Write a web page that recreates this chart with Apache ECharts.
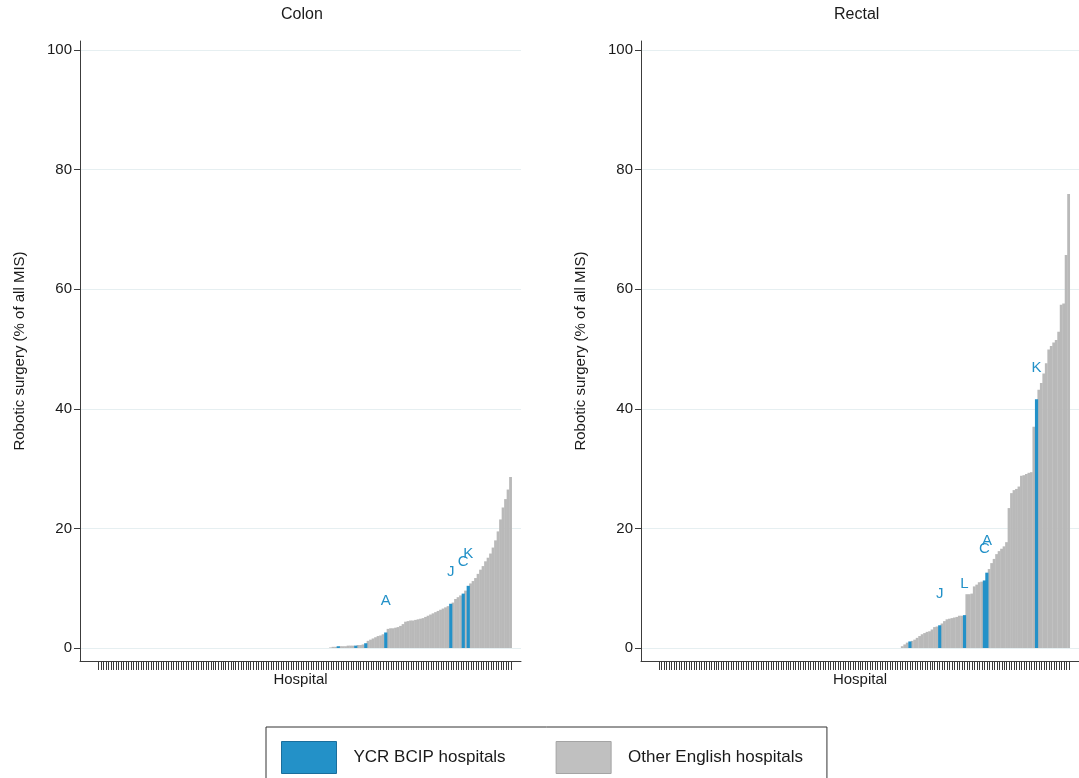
<!DOCTYPE html>
<html>
<head>
<meta charset="utf-8">
<script src="https://cdn.jsdelivr.net/npm/echarts@6/dist/echarts.min.js"></script>
<style>
  html, body { margin: 0; padding: 0; background: #ffffff; }
  #chart { width: 1079px; height: 778px; }
</style>
</head>
<body>
<div id="chart"></div>
<script>
// Number of English hospitals on the x axis of each panel
const hospitalCount = 166;

const panelTitles = ['Colon', 'Rectal'];
const seriesNames = ['YCR BCIP hospitals', 'Other English hospitals'];
const yTicks = [0, 20, 40, 60, 80, 100];

// Robotic share (% of all MIS) for hospitals with any robotic activity, ascending.
// All remaining hospitals (to the left) sit at 0.
const colonRates = [
  0.1, 0.2, 0.2, 0.3, 0.3, 0.3, 0.3, 0.4, 0.4, 0.4,
  0.4, 0.5, 0.5, 0.6, 0.8, 1.2, 1.4, 1.6, 1.8, 2.0,
  2.1, 2.3, 2.6, 3.2, 3.3, 3.3, 3.4, 3.5, 3.7, 4.0,
  4.4, 4.5, 4.6, 4.6, 4.7, 4.8, 4.9, 5.0, 5.2, 5.4,
  5.6, 5.8, 6.0, 6.2, 6.4, 6.6, 6.8, 7.0, 7.4, 7.6,
  8.2, 8.5, 8.8, 9.1, 9.6, 10.4, 10.8, 11.2, 11.7, 12.4,
  13.1, 13.7, 14.5, 15.1, 15.8, 16.8, 18.0, 19.5, 21.5, 23.5,
  24.9, 26.5, 28.6
];
// Positions (within colonRates) of YCR BCIP hospitals and their letters
const colonYcrPos = [3, 10, 14, 22, 48, 53, 55];
const colonYcrLabels = ['', '', '', 'A', 'J', 'C', 'K'];

const rectalRates = [
  0.3, 0.6, 0.9, 1.1, 1.2, 1.4, 1.7, 2.0, 2.3, 2.5,
  2.7, 2.8, 3.1, 3.5, 3.6, 3.8, 4.1, 4.5, 4.8, 4.9,
  5.0, 5.1, 5.2, 5.4, 5.4, 5.5, 9.0, 9.0, 9.1, 10.3,
  10.6, 11.0, 11.1, 11.3, 12.6, 13.2, 14.2, 14.9, 15.7, 16.2,
  16.6, 17.0, 17.7, 23.4, 25.9, 26.4, 26.6, 27.0, 28.8, 28.9,
  29.1, 29.3, 29.4, 37.0, 41.6, 43.2, 44.3, 45.9, 47.6, 49.9,
  50.5, 51.1, 51.5, 52.9, 57.4, 57.6, 65.7, 75.9
];
const rectalYcrPos = [3, 15, 25, 33, 34, 54];
const rectalYcrLabels = ['', 'J', 'L', 'C', 'A', 'K'];

const BLUE = '#2391c8';
const GREY = '#b9b9b9';
const FONT = "'Liberation Sans', Arial, Helvetica, sans-serif";
const TEXT = '#1a1a1a';
const AXIS = '#3c3c3c';
const GRIDLINE = '#e6eff1';

const panels = [
  { rates: colonRates, pos: colonYcrPos, labels: colonYcrLabels, left: 80 },
  { rates: rectalRates, pos: rectalYcrPos, labels: rectalYcrLabels, left: 641 }
];

const hospitalTicks = [];
for (let k = 0; k < hospitalCount; k++) hospitalTicks.push(k);

const grids = [], xAxes = [], yAxes = [], series = [], titles = [];

panels.forEach((p, g) => {
  grids.push({ left: p.left, top: 41, width: 441, height: 620, containLabel: false });

  xAxes.push({
    gridIndex: g,
    type: 'value',
    min: -7.3,
    max: 169.1,
    name: 'Hospital',
    nameLocation: 'middle',
    nameGap: 11,
    nameTextStyle: { fontFamily: FONT, fontSize: 15, color: TEXT },
    axisLine: { show: true, onZero: false, lineStyle: { color: AXIS, width: 1 } },
    axisTick: { show: true, length: 9, customValues: hospitalTicks, lineStyle: { color: '#3a3a3a', width: 1 } },
    axisLabel: { show: false },
    splitLine: { show: false }
  });

  yAxes.push({
    gridIndex: g,
    type: 'value',
    min: -2.17,
    max: 101.5,
    name: 'Robotic surgery (% of all MIS)',
    nameLocation: 'middle',
    nameGap: 53,
    nameTextStyle: { fontFamily: FONT, fontSize: 15, color: TEXT },
    axisLine: { show: true, onZero: false, lineStyle: { color: AXIS, width: 1 } },
    axisTick: { show: true, length: 6, customValues: yTicks, lineStyle: { color: AXIS } },
    axisLabel: { customValues: yTicks, margin: 8, fontFamily: FONT, fontSize: 15, color: TEXT },
    splitLine: { show: true, lineStyle: { color: GRIDLINE, width: 1 } }
  });

  const offset = hospitalCount - p.rates.length;
  const blueData = [], greyData = [];
  for (let k = 0; k < offset; k++) greyData.push([k, 0]);
  p.rates.forEach((v, i) => {
    const j = p.pos.indexOf(i);
    if (j >= 0) {
      const lbl = p.labels[j];
      blueData.push({ name: lbl, value: [offset + i, v], label: { show: lbl !== '' } });
    } else {
      greyData.push([offset + i, v]);
    }
  });

  series.push({
    name: seriesNames[1], type: 'bar', xAxisIndex: g, yAxisIndex: g,
    barWidth: 2.8, barGap: '-100%',
    itemStyle: { color: GREY },
    data: greyData, silent: true, animation: false
  });
  series.push({
    name: seriesNames[0], type: 'bar', xAxisIndex: g, yAxisIndex: g,
    barWidth: 3.2, barGap: '-100%',
    itemStyle: { color: BLUE },
    label: {
      position: 'top', distance: 24, formatter: '{b}',
      fontFamily: FONT, fontSize: 15, color: BLUE
    },
    data: blueData, silent: true, animation: false, z: 3
  });
});

titles.push({ text: panelTitles[0], left: 281, top: 7, padding: 0,
  textStyle: { fontFamily: FONT, fontSize: 16, fontWeight: 'normal', color: TEXT } });
titles.push({ text: panelTitles[1], left: 834, top: 7, padding: 0,
  textStyle: { fontFamily: FONT, fontSize: 16, fontWeight: 'normal', color: TEXT } });

const chart = echarts.init(document.getElementById('chart'), null, { renderer: 'canvas' });
chart.setOption({
  backgroundColor: '#ffffff',
  animation: false,
  title: titles,
  grid: grids,
  xAxis: xAxes,
  yAxis: yAxes,
  legend: {
    left: 266, top: 727,
    padding: [14, 24, 14, 15],
    itemWidth: 55, itemHeight: 32, itemGap: 50,
    icon: 'rect',
    borderColor: '#333333', borderWidth: 1, borderRadius: 0,
    selectedMode: false,
    textStyle: { fontFamily: FONT, fontSize: 17, color: TEXT, padding: [0, 0, 0, 12] },
    data: [
      { name: seriesNames[0], itemStyle: { color: BLUE, borderColor: '#1a6e9c', borderWidth: 1 } },
      { name: seriesNames[1], itemStyle: { color: '#c0c0c0', borderColor: '#a4a4a4', borderWidth: 1 } }
    ]
  },
  series: series
});
</script>
</body>
</html>
